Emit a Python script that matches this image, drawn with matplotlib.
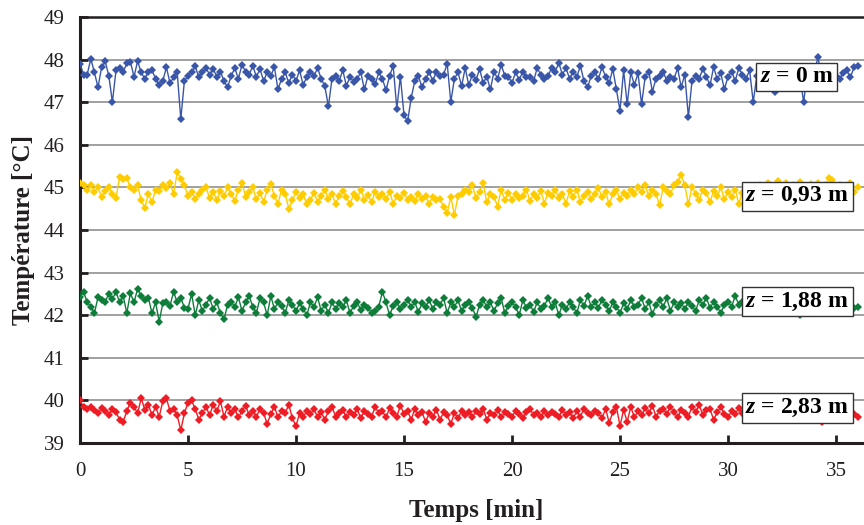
import numpy as np
import matplotlib
matplotlib.use("Agg")
import matplotlib.pyplot as plt

# temperature readings every 10 s, one row = 2 min
sample_step_min = 1 / 6

temp_z0 = [
    47.90, 47.65, 47.65, 48.02, 47.70, 47.35, 47.82, 47.96, 47.62, 47.00, 47.75, 47.80,
    47.70, 47.92, 47.95, 47.60, 47.96, 47.70, 47.55, 47.72, 47.75, 47.55, 47.40, 47.50,
    47.82, 47.45, 47.58, 47.70, 46.60, 47.50, 47.62, 47.72, 47.85, 47.58, 47.70, 47.80,
    47.65, 47.78, 47.60, 47.72, 47.50, 47.35, 47.62, 47.80, 47.55, 47.88, 47.72, 47.65,
    47.85, 47.60, 47.78, 47.50, 47.70, 47.62, 47.82, 47.30, 47.55, 47.70, 47.45, 47.65,
    47.50, 47.75, 47.40, 47.60, 47.72, 47.62, 47.80, 47.55, 47.38, 46.90, 47.55, 47.62,
    47.50, 47.75, 47.38, 47.60, 47.48, 47.55, 47.70, 47.30, 47.62, 47.55, 47.42, 47.70,
    47.55, 47.28, 47.62, 47.85, 46.85, 47.60, 46.70, 46.55, 47.10, 47.50, 47.62, 47.35,
    47.55, 47.70, 47.50, 47.72, 47.62, 47.65, 47.90, 47.00, 47.55, 47.70, 47.38, 47.80,
    47.40, 47.65, 47.52, 47.78, 47.45, 47.60, 47.30, 47.72, 47.55, 47.88, 47.62, 47.60,
    47.45, 47.70, 47.52, 47.72, 47.58, 47.60, 47.50, 47.80, 47.65, 47.55, 47.62, 47.80,
    47.72, 47.92, 47.65, 47.80, 47.55, 47.72, 47.60, 47.85, 47.50, 47.35, 47.62, 47.70,
    47.55, 47.82, 47.60, 47.45, 47.78, 47.30, 46.80, 47.75, 46.95, 47.70, 47.40, 47.68,
    46.95, 47.60, 47.72, 47.25, 47.55, 47.62, 47.72, 47.50, 47.60, 47.55, 47.80, 47.35,
    47.65, 46.65, 47.50, 47.62, 47.55, 47.78, 47.60, 47.40, 47.82, 47.55, 47.68, 47.30,
    47.60, 47.72, 47.50, 47.80, 47.65, 47.55, 47.75, 47.00, 47.62, 47.70, 47.60, 47.72,
    47.55, 47.25, 47.68, 47.50, 47.72, 47.60, 47.55, 47.70, 47.62, 47.00, 47.65, 47.58,
    47.72, 48.05, 47.60, 47.55, 47.70, 47.82, 47.62, 47.55, 47.68, 47.75, 47.58, 47.82,
    47.85,
]

temp_z093 = [
    45.10, 45.05, 44.95, 45.05, 44.90, 45.00, 44.78, 44.92, 45.00, 44.85, 44.75, 45.25,
    45.20, 45.22, 45.00, 44.95, 45.05, 44.70, 44.52, 44.85, 44.65, 44.95, 44.92, 45.05,
    44.98, 45.10, 44.85, 45.35, 45.20, 45.05, 44.80, 44.90, 44.72, 44.85, 44.95, 45.00,
    44.75, 44.90, 44.70, 44.92, 44.80, 45.00, 44.85, 44.68, 44.95, 45.10, 44.78, 44.90,
    45.00, 44.72, 44.88, 44.65, 44.95, 45.08, 44.80, 44.62, 44.95, 44.85, 44.50, 44.70,
    44.90, 44.75, 44.85, 44.60, 44.70, 44.88, 44.65, 44.80, 44.95, 44.72, 44.85, 44.62,
    44.80, 44.92, 44.78, 44.60, 44.85, 44.75, 44.95, 44.70, 44.82, 44.65, 44.90, 44.78,
    44.85, 44.72, 44.90, 44.62, 44.80, 44.75, 44.88, 44.70, 44.78, 44.68, 44.85, 44.72,
    44.80, 44.62, 44.78, 44.70, 44.72, 44.55, 44.40, 44.78, 44.35, 44.80, 44.85, 44.95,
    44.90, 45.05, 44.75, 44.90, 45.10, 44.65, 44.85, 44.78, 44.55, 44.95, 44.70, 44.88,
    44.70, 44.85, 44.75, 44.80, 44.95, 44.68, 44.85, 44.75, 44.92, 44.62, 44.88, 44.80,
    44.95, 44.75, 44.85, 44.62, 44.92, 44.78, 44.95, 44.65, 44.80, 44.90, 44.72, 44.85,
    44.98, 44.78, 44.90, 44.60, 44.85, 44.95, 44.72, 44.88, 44.80, 44.95, 44.85, 45.00,
    44.90, 45.05, 44.80, 44.95, 44.85, 44.58, 45.00, 44.92, 44.85, 45.05, 45.12, 45.30,
    45.05, 44.60, 45.02, 44.85, 44.70, 44.95, 44.88, 44.65, 44.92, 44.80, 45.00, 44.72,
    44.90, 44.78, 44.95, 44.62, 44.88, 44.80, 44.70, 44.95, 44.85, 45.05, 44.90, 45.10,
    45.05, 44.90, 45.15, 44.95, 45.10, 44.85, 45.05, 44.95, 45.12, 44.90, 45.00, 45.08,
    44.95, 45.10, 44.90, 45.05, 45.22, 45.18, 44.95, 45.05, 44.82, 45.00, 45.10, 44.90,
    45.00,
]

temp_z188 = [
    42.42, 42.55, 42.30, 42.20, 42.05, 42.42, 42.35, 42.32, 42.50, 42.38, 42.55, 42.30,
    42.45, 42.05, 42.52, 42.30, 42.62, 42.45, 42.35, 42.40, 42.05, 42.30, 41.85, 42.28,
    42.30, 42.22, 42.55, 42.30, 42.40, 42.18, 42.15, 42.50, 42.00, 42.35, 42.10, 42.25,
    42.40, 42.15, 42.30, 42.05, 41.90, 42.25, 42.30, 42.20, 42.42, 42.10, 42.30, 42.45,
    42.20, 42.05, 42.40, 42.30, 42.00, 42.45, 42.15, 42.30, 42.22, 42.05, 42.35, 42.25,
    42.10, 42.28, 42.15, 42.00, 42.30, 42.20, 42.42, 42.10, 42.25, 42.05, 42.30, 42.15,
    42.28, 42.20, 42.35, 42.05, 42.22, 42.30, 42.12, 42.25, 42.18, 42.05, 42.10, 42.20,
    42.55, 42.30, 42.00, 42.22, 42.30, 42.15, 42.25, 42.35, 42.20, 42.30, 42.08, 42.28,
    42.20, 42.35, 42.15, 42.30, 42.25, 42.40, 42.05, 42.30, 42.20, 42.35, 42.10, 42.25,
    42.30, 42.18, 41.95, 42.25, 42.35, 42.20, 42.30, 42.10, 42.28, 42.40, 42.05, 42.22,
    42.30, 42.20, 42.00, 42.35, 42.18, 42.25, 42.08, 42.30, 42.15, 42.22, 42.40, 42.20,
    42.30, 42.00, 42.25, 42.15, 42.30, 42.20, 42.05, 42.35, 42.22, 42.45, 42.20, 42.30,
    42.18, 42.35, 42.25, 42.10, 42.30, 42.20, 42.05, 42.28, 42.15, 42.35, 42.20, 42.25,
    42.40, 42.15, 42.30, 42.02, 42.25, 42.35, 42.20, 42.40, 42.10, 42.30, 42.20, 42.28,
    42.15, 42.30, 42.22, 42.10, 42.35, 42.25, 42.40, 42.18, 42.30, 42.20, 42.05, 42.25,
    42.32, 42.20, 42.45, 42.25, 42.30, 42.12, 42.20, 42.35, 42.05, 42.25, 42.15, 42.30,
    42.20, 42.35, 42.25, 42.10, 42.30, 42.40, 42.15, 42.30, 42.00, 42.25, 42.18, 42.32,
    42.20, 42.30, 42.15, 42.25, 42.35, 42.08, 42.28, 42.20, 42.15, 42.30, 42.22, 42.18,
    42.20,
]

temp_z283 = [
    40.00, 39.85, 39.80, 39.85, 39.78, 39.70, 39.82, 39.75, 39.65, 39.80, 39.72, 39.55,
    39.50, 39.75, 39.95, 39.85, 39.70, 40.05, 39.78, 39.90, 39.65, 39.85, 39.62, 39.98,
    40.05, 39.75, 39.80, 39.65, 39.30, 39.70, 39.95, 40.00, 39.80, 39.55, 39.70, 39.85,
    39.65, 39.90, 39.75, 39.98, 39.62, 39.85, 39.70, 39.80, 39.60, 39.75, 39.88, 39.65,
    39.75, 39.62, 39.80, 39.70, 39.45, 39.68, 39.85, 39.60, 39.75, 39.70, 39.90, 39.58,
    39.40, 39.70, 39.62, 39.75, 39.68, 39.80, 39.60, 39.72, 39.55, 39.75, 39.85, 39.62,
    39.70, 39.78, 39.60, 39.72, 39.65, 39.80, 39.58, 39.75, 39.68, 39.62, 39.85, 39.70,
    39.75, 39.60, 39.82, 39.70, 39.62, 39.88, 39.68, 39.75, 39.55, 39.80, 39.65, 39.72,
    39.50, 39.70, 39.62, 39.78, 39.55, 39.72, 39.65, 39.45, 39.70, 39.58, 39.75, 39.65,
    39.72, 39.60, 39.75, 39.68, 39.80, 39.55, 39.70, 39.65, 39.78, 39.60, 39.72, 39.68,
    39.62, 39.75, 39.68, 39.58, 39.72, 39.80, 39.65, 39.70, 39.60, 39.75, 39.66, 39.72,
    39.68, 39.60, 39.78, 39.65, 39.72, 39.58, 39.75, 39.62, 39.80, 39.70, 39.65, 39.75,
    39.70, 39.58, 39.80, 39.48, 39.72, 39.85, 39.40, 39.78, 39.50, 39.85, 39.60, 39.75,
    39.65, 39.82, 39.70, 39.88, 39.62, 39.75, 39.80, 39.68, 39.85, 39.72, 39.60, 39.78,
    39.70, 39.62, 39.85, 39.72, 39.90, 39.65, 39.78, 39.80, 39.55, 39.72, 39.85, 39.68,
    39.60, 39.75, 39.68, 39.82, 39.70, 39.62, 39.78, 39.72, 39.85, 39.65, 39.75, 39.70,
    39.80, 39.68, 39.75, 39.62, 39.85, 39.72, 39.70, 39.78, 39.65, 39.80, 39.72, 39.60,
    39.75, 39.68, 39.50, 39.80, 39.72, 39.65, 39.78, 39.70, 39.62, 39.75, 39.60, 39.68,
    39.60,
]

series = [temp_z0, temp_z093, temp_z188, temp_z283]
labels = ["0", "0,93", "1,88", "2,83"]
colors = ["#3A56A8", "#FFCC00", "#0E7D3A", "#EE1C25"]
label_y = [47.6, 44.79, 42.32, 39.82]
label_x = [34.9, 35.6, 35.6, 35.6]

plt.rcParams["font.family"] = "Liberation Serif"
plt.rcParams["mathtext.fontset"] = "custom"
plt.rcParams["mathtext.it"] = "Liberation Serif:italic:bold"
plt.rcParams["mathtext.rm"] = "Liberation Serif"

fig = plt.figure(figsize=(8.64, 5.25), dpi=100)
ax = fig.add_axes([80 / 864, 82 / 525, 784 / 864, 426 / 525])

for vals, col in zip(series, colors):
    t = np.arange(len(vals)) * sample_step_min
    ax.plot(t, vals, color=col, lw=1.0, marker="D", markersize=4.2,
            markeredgewidth=0, zorder=3)

for lab, col, y, x in zip(labels, colors, label_y, label_x):
    ax.text(x, y, r"$\mathit{z}$ = " + lab + " m", ha="right", va="center",
            fontsize=17, fontweight="bold", zorder=5,
            bbox=dict(boxstyle="square,pad=0.15", fc="white", ec="#333333", lw=1))

ax.set_xlim(0, 784 / 21.6)
ax.set_ylim(39, 49)
ax.set_xticks(range(0, 36, 5))
ax.set_yticks(range(39, 50))
ax.yaxis.grid(True, color="#999999", lw=1.3)
ax.set_axisbelow(True)

for side in ["left", "bottom"]:
    ax.spines[side].set_linewidth(2.2)
    ax.spines[side].set_color("#231f20")
ax.spines["top"].set_linewidth(1.8)
ax.spines["top"].set_color("#231f20")
ax.spines["right"].set_visible(False)

ax.tick_params(axis="both", direction="in", length=6, width=2, colors="#231f20",
               labelsize=15, labelcolor="#231f20")
ax.tick_params(axis="x", pad=14)
ax.tick_params(axis="y", pad=11)

ax.set_xlabel("Temps [min]", fontsize=18, fontweight="bold", color="#231f20")
ax.set_ylabel("Température [°C]", fontsize=18, fontweight="bold", color="#231f20")
ax.xaxis.set_label_coords(0.505, -0.132)
ax.yaxis.set_label_coords(-0.058, 0.5)

fig.savefig("out.png", dpi=100)
